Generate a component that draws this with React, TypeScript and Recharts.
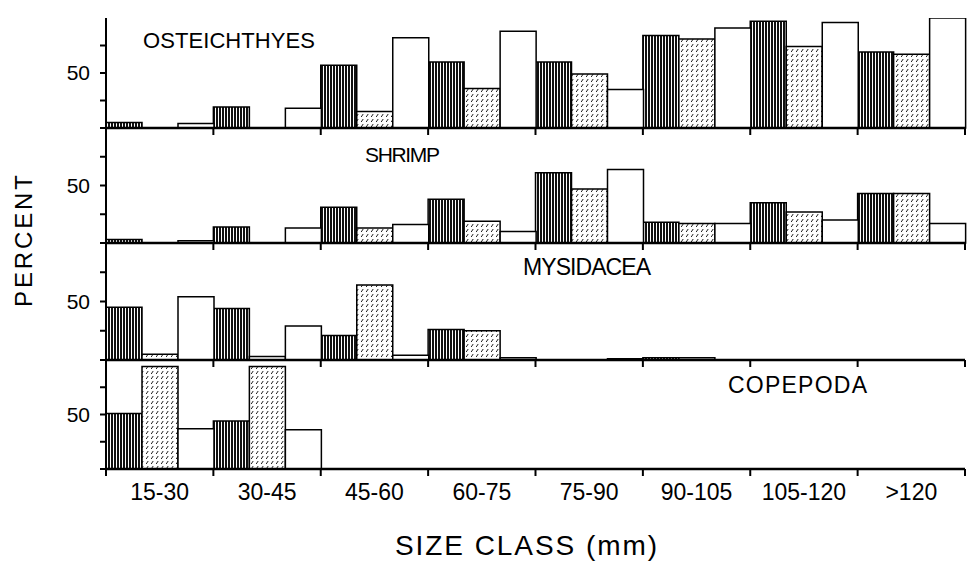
import { BarChart, Bar, XAxis, YAxis } from 'recharts'

// size classes (mm)
const sizeClasses = ['15-30', '30-45', '45-60', '60-75', '75-90', '90-105', '105-120', '>120']

// percent values, three bar kinds per size class
const osteHatched = [5, 19, 57, 60, 60, 84, 97, 69]
const osteStippled = [0, 0, 15, 36, 49, 81, 74, 67]
const osteOpen = [4, 18, 82, 88, 35, 91, 96, 100]

const shrimpHatched = [3, 14, 31, 38, 61, 18, 35, 43]
const shrimpStippled = [0, 0, 13, 19, 47, 17, 27, 43]
const shrimpOpen = [2, 13, 16, 10, 64, 17, 20, 17]

const mysidHatched = [45, 44, 21, 26, 0, 2, 0, 0]
const mysidStippled = [5, 3, 64, 25, 0, 2, 0, 0]
const mysidOpen = [54, 29, 4, 2, 1, 0, 0, 0]

const copeHatched = [51, 44, 0, 0, 0, 0, 0, 0]
const copeStippled = [94, 94, 0, 0, 0, 0, 0, 0]
const copeOpen = [37, 36, 0, 0, 0, 0, 0, 0]

const yTicks = [0, 25, 50, 75]

type Panel = { name: string; hatched: number[]; stippled: number[]; open: number[] }

const panels: Panel[] = [
  { name: 'OSTEICHTHYES', hatched: osteHatched, stippled: osteStippled, open: osteOpen },
  { name: 'SHRIMP', hatched: shrimpHatched, stippled: shrimpStippled, open: shrimpOpen },
  { name: 'MYSIDACEA', hatched: mysidHatched, stippled: mysidStippled, open: mysidOpen },
  { name: 'COPEPODA', hatched: copeHatched, stippled: copeStippled, open: copeOpen },
]

// layout: plot top / baseline of each panel
const PLOT_TOP = [18, 128, 243, 360]
const PLOT_BOTTOM = [128, 243, 360, 469]
const W = 977
const M_LEFT = 56
const Y_W = 50
const M_RIGHT = 12
const BAND = (W - M_LEFT - Y_W - M_RIGHT) / sizeClasses.length

const FONT = '"Liberation Sans", Arial, Helvetica, sans-serif'

// tick marks sit on the class boundaries, labels at the centre
// eslint-disable-next-line @typescript-eslint/no-explicit-any
function SizeTick({ x, y, payload, index, showLabel }: any) {
  const i = index ?? payload?.index ?? 0
  const left = x - BAND / 2
  const right = x + BAND / 2
  return (
    <g>
      <line x1={left} y1={y} x2={left} y2={y + 7} stroke="#000" strokeWidth={2} />
      {i === sizeClasses.length - 1 && (
        <line x1={right} y1={y} x2={right} y2={y + 7} stroke="#000" strokeWidth={2} />
      )}
      {showLabel && (
        <text x={x} y={y + 31} textAnchor="middle" fontSize={23} fontFamily={FONT} fill="#000">
          {payload.value}
        </text>
      )}
    </g>
  )
}

function PanelChart({ p, idx }: { p: Panel; idx: number }) {
  const last = idx === panels.length - 1
  const rows = sizeClasses.map((size, i) => ({
    size,
    hatched: p.hatched[i],
    stippled: p.stippled[i],
    open: p.open[i],
  }))
  const plotH = PLOT_BOTTOM[idx] - PLOT_TOP[idx]
  const axisH = last ? 45 : 10

  return (
    <div style={{ position: 'absolute', left: 0, top: PLOT_TOP[idx] }}>
      <BarChart
        width={W}
        height={plotH + axisH}
        data={rows}
        margin={{ top: 0, right: M_RIGHT, bottom: 0, left: M_LEFT }}
        barCategoryGap={0}
        barGap={0}
      >
        <XAxis
          dataKey="size"
          height={axisH}
          interval={0}
          tickSize={0}
          tickMargin={0}
          tickLine={false}
          axisLine={{ stroke: '#000', strokeWidth: 2.5 }}
          tick={<SizeTick showLabel={last} />}
        />
        <YAxis
          domain={[0, 100]}
          ticks={yTicks}
          width={Y_W}
          tickSize={6}
          tickMargin={10}
          tickFormatter={(v: number) => (v === 50 ? '50' : '')}
          axisLine={{ stroke: '#000', strokeWidth: 2 }}
          tickLine={{ stroke: '#000', strokeWidth: 2 }}
          tick={{ fill: '#000', fontSize: 21, fontFamily: FONT }}
        />
        <Bar dataKey="hatched" fill="url(#vhatch)" stroke="#000" strokeWidth={1.5} isAnimationActive={false} />
        <Bar dataKey="stippled" fill="url(#dhatch)" stroke="#000" strokeWidth={1.5} isAnimationActive={false} />
        <Bar dataKey="open" fill="#fff" stroke="#000" strokeWidth={1.5} isAnimationActive={false} />
      </BarChart>
    </div>
  )
}

export default function App() {
  return (
    <div style={{ position: 'absolute', left: 0, top: 0, width: W, height: 561, background: '#fff', fontFamily: FONT }}>
      <svg width={0} height={0} style={{ position: 'absolute' }}>
        <defs>
          <pattern id="vhatch" width="3" height="6" patternUnits="userSpaceOnUse">
            <rect width="3" height="6" fill="#fff" />
            <rect width="2" height="6" fill="#111" />
          </pattern>
          <pattern id="dhatch" width="5" height="5" patternUnits="userSpaceOnUse">
            <rect width="5" height="5" fill="#fff" />
            <line x1="1.2" y1="4" x2="3.2" y2="1" stroke="#222" strokeWidth="1" />
          </pattern>
        </defs>
      </svg>

      {panels.map((p, i) => (
        <PanelChart key={p.name} p={p} idx={i} />
      ))}

      <svg width={W} height={561} style={{ position: 'absolute', left: 0, top: 0, pointerEvents: 'none' }}>
        <g fontFamily={FONT} fill="#000">
          <text x={143} y={48} fontSize={22} textLength={172}>OSTEICHTHYES</text>
          <text x={365} y={162} fontSize={21} textLength={75}>SHRIMP</text>
          <text x={523} y={275} fontSize={23} textLength={128}>MYSIDACEA</text>
          <text x={728} y={393} fontSize={23} textLength={139}>COPEPODA</text>
          <text transform="translate(32,241) rotate(-90)" textAnchor="middle" fontSize={24} textLength={132}>PERCENT</text>
          <text x={526} y={555} textAnchor="middle" fontSize={28} textLength={262}>SIZE CLASS (mm)</text>
        </g>
      </svg>
    </div>
  )
}
